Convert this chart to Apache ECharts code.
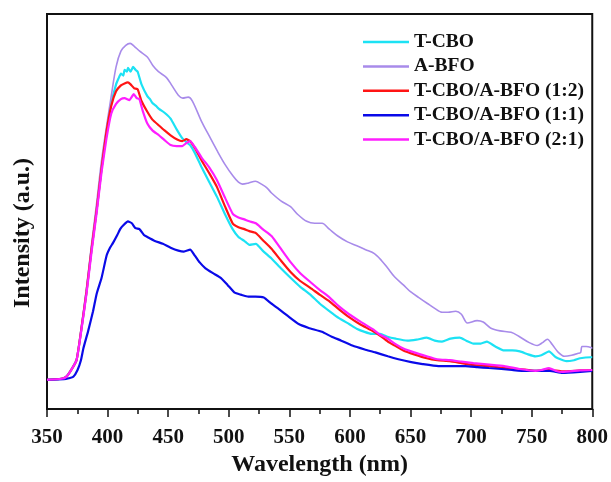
<!DOCTYPE html>
<html>
<head>
<meta charset="utf-8">
<script src="https://cdn.jsdelivr.net/npm/echarts@6/dist/echarts.min.js"></script>
<style>html,body{margin:0;padding:0;background:#fff}#c{width:611px;height:482px}</style>
</head>
<body>
<div id="c"></div>
<script>
const seriesNames = ['T-CBO', 'A-BFO', 'T-CBO/A-BFO (1:2)', 'T-CBO/A-BFO (1:1)', 'T-CBO/A-BFO (2:1)'];
const xTicks = [350, 400, 450, 500, 550, 600, 650, 700, 750, 800];

// [wavelength nm, intensity a.u.]
const tcbo = [[350,30],[362,31],[366,33],[370,40],[374.4,50],[378.5,83],[382.6,120],[386.7,163],[390.9,203],[395,246],[399,283],[403,312],[407,332],[409,338],[411,343],[413,341],[414,347],[416,345],[416.8,349],[419,345],[421,350],[423,347],[424.8,345],[428,332],[432.8,320],[435,317],[437,313],[440,310],[442.4,307],[447,303],[452,297],[457,286],[461.6,277],[465,273],[468.1,270],[472,262],[477.7,247],[484,232],[490.3,217],[497,199],[503.2,184],[508,176],[512.8,172],[517,168],[522.4,169],[528,162],[535.3,154],[543,144],[551.2,134],[559,125],[567.3,117],[575,108],[583.3,100],[591,93],[599.3,87],[606,82],[612.1,79],[618,77],[625,77],[631,74],[637.8,72],[647.3,70],[655,71],[663.4,73],[670,70],[676.1,69],[683,72],[690.6,73],[696,70],[701.9,67],[708,67],[713.1,69],[720,64],[727.4,60],[734,60],[740.3,59],[747,56],[753.1,54],[758,55],[764.3,59],[770,53],[778.6,49],[785,50],[790,52],[798.8,53],[800,53]];
const abfo = [[350,30],[362,31.5],[366,34],[370,41],[374.4,52],[378.5,86],[382.6,124],[386.7,168],[390.9,210],[395,254],[399,288],[403,320],[407,350],[411,366],[415,372],[418.6,374],[422,371],[426.5,366],[432.8,360],[437.5,351],[442,345],[448.6,339],[453,331],[458.4,321],[462,318],[466.5,319],[470,315],[477.6,294],[484,279],[490.5,264],[497,250],[503.7,238],[508,232],[511.3,230],[516,231],[522,233],[527,230],[531.7,226],[535.3,221],[543,213],[551,207],[557,199],[564.3,192],[571,190],[577,190],[583,184],[590,177],[598,171],[605.7,167],[613,163],[620.2,159],[626,152],[631.3,144],[637,135],[644.1,127],[650,120],[656.9,114],[664,108],[670,103],[676.1,99],[681,99],[687.4,100],[692,97],[697,88],[705,90.5],[710,89],[716,83],[724,80],[733,78.5],[740,74],[748,68],[754.6,65],[759,68],[763,71.5],[767,66],[772,58],[777,54],[783,55],[788.5,57],[790.5,58],[791.5,64],[795,64],[799,63],[800,62]];
const ratio12 = [[350,30],[362,31],[366,33],[370,40],[374.4,50],[378.5,83],[382.6,120],[386.7,163],[390.9,203],[395,246],[399,283],[403,310],[407,325],[411,331],[414,333],[416.8,334],[419,332],[422,328],[424.8,327],[428,315],[432.8,304],[437,296],[442.4,290],[447,285],[452,280],[457,276],[461.6,274],[465,276],[468.1,274],[472,267],[477.7,254],[484,241],[490.3,227],[497,207],[503.2,190],[508,186],[512.8,184],[517,182],[522.4,180],[528,173],[535.3,164],[543,152],[551.2,140],[559,131],[567.3,124],[575,117],[583.3,110],[591,102],[599.3,94],[608,87],[618.5,80],[625,75],[631.3,69],[637,65],[644.1,60],[653,56],[663.4,52],[672,50],[682.6,49],[692,47],[701.9,45],[715,44],[727.4,42],[740,41],[753.1,39],[765,40],[775.4,38.5],[790,39.5],[800,40]];
const ratio11 = [[350,30],[364,30.5],[368,31.5],[371.7,33],[375.2,40],[378,50],[380,62],[384,80],[388,100],[391,118],[395,134],[399.2,157],[402,165],[404.5,170],[408,178],[410.4,184],[413,188],[416.8,192],[420,190],[423,185],[426.3,184],[430,178],[432.8,176],[439,172],[445.6,169],[452,165],[458.4,162],[463,161],[468.1,163],[472,157],[476,150],[480.8,144],[487,139],[493.6,134],[499,127],[504.9,119],[510,117],[516.1,115],[522,115],[528.9,114],[535,108],[541.7,102],[549,95],[557.7,87],[566,83],[576.9,79],[585,74],[592.9,70],[602,65],[612.2,61],[621,58],[631.3,54],[640,51],[650.6,48],[660,46],[673,44],[684,44],[695.4,44],[705,43],[714.6,42],[725,41],[733.8,40],[745,39],[753.1,39],[765,39],[775.4,37],[790,38],[800,39]];
const ratio21 = [[350,30],[362,31],[366,33],[370,40],[374.4,50],[378.5,82],[382.6,118],[386.7,160],[390.9,200],[395,242],[399,276],[403,302],[407,312],[411,317],[414,318],[418,316],[421.6,322],[424,318],[426.2,317],[429,305],[432.8,292],[437,285],[442.4,280],[447,275],[452,270],[457,269],[461.6,269],[465,272],[468.1,274],[472,268],[477.7,257],[484,247],[490.3,234],[497,216],[503.2,200],[508,196],[512.8,194],[517,192],[522.4,190],[528,184],[535.3,177],[543,164],[551.2,150],[559,139],[567.3,130],[575,122],[583.3,114],[591,105],[599.3,97],[608,90],[618.5,82],[625,76],[631.3,72],[637,67],[644.1,62],[653,58],[663.4,54],[672,51],[682.6,50],[692,48.5],[701.9,47],[715,45.5],[727.4,44],[740,41],[753.1,39],[758,40],[764.3,42],[770,39],[775.4,38],[790,39.5],[800,40]];

const colors = ['#1CE2F4', '#A88BEA', '#FF1414', '#0A0AE8', '#FF1EFF'];
const widths = [2.2, 1.6, 2.2, 2.2, 2.2];
const datasets = [tcbo, abfo, ratio12, ratio11, ratio21];
const serif = '"Liberation Serif", "DejaVu Serif", serif';

const chart = echarts.init(document.getElementById('c'));
chart.setOption({
  animation: false,
  backgroundColor: '#fff',
  grid: { left: 47, right: 17, top: 14, bottom: 64, show: true, borderColor: '#111', borderWidth: 2, backgroundColor: 'transparent' },
  legend: {
    orient: 'vertical', left: 358, top: 27, padding: 5, itemWidth: 46, itemHeight: 2.5, itemGap: 4.4, icon: 'rect',
    data: seriesNames,
    textStyle: { fontFamily: serif, fontWeight: 'bold', fontSize: 19.5, color: '#111', lineHeight: 20 }
  },
  xAxis: {
    type: 'value', min: 350, max: 800, interval: 50,
    axisLine: { show: true, lineStyle: { color: '#111', width: 2 } },
    axisTick: { show: true, length: 8, lineStyle: { color: '#111', width: 1.5 } },
    minorTick: { show: true, splitNumber: 2, length: 5, lineStyle: { color: '#111', width: 1.5 } },
    splitLine: { show: false },
    axisLabel: { fontFamily: serif, fontWeight: 'bold', fontSize: 21, color: '#111', margin: 18,
      formatter: v => xTicks.includes(v) ? String(v) : '' },
    name: 'Wavelength (nm)', nameLocation: 'middle', nameGap: 43,
    nameTextStyle: { fontFamily: serif, fontWeight: 'bold', fontSize: 24, color: '#111' }
  },
  yAxis: {
    type: 'value', min: 0, max: 404,
    axisLine: { show: true, lineStyle: { color: '#111', width: 2 } },
    axisTick: { show: false }, axisLabel: { show: false }, splitLine: { show: false }
  },
  graphic: [{
    type: 'text', x: 23, y: 233, rotation: Math.PI / 2,
    style: { text: 'Intensity (a.u.)', fontFamily: serif, fontWeight: 'bold', fontSize: 24, fill: '#111', align: 'center', verticalAlign: 'middle' }
  }],
  series: datasets.map((d, i) => ({
    name: seriesNames[i], type: 'line', data: d, showSymbol: false, symbol: 'none',
    smooth: i === 1 ? 0.3 : 0.15,
    lineStyle: { color: colors[i], width: widths[i] }, itemStyle: { color: colors[i] }
  }))
});
</script>
</body>
</html>
